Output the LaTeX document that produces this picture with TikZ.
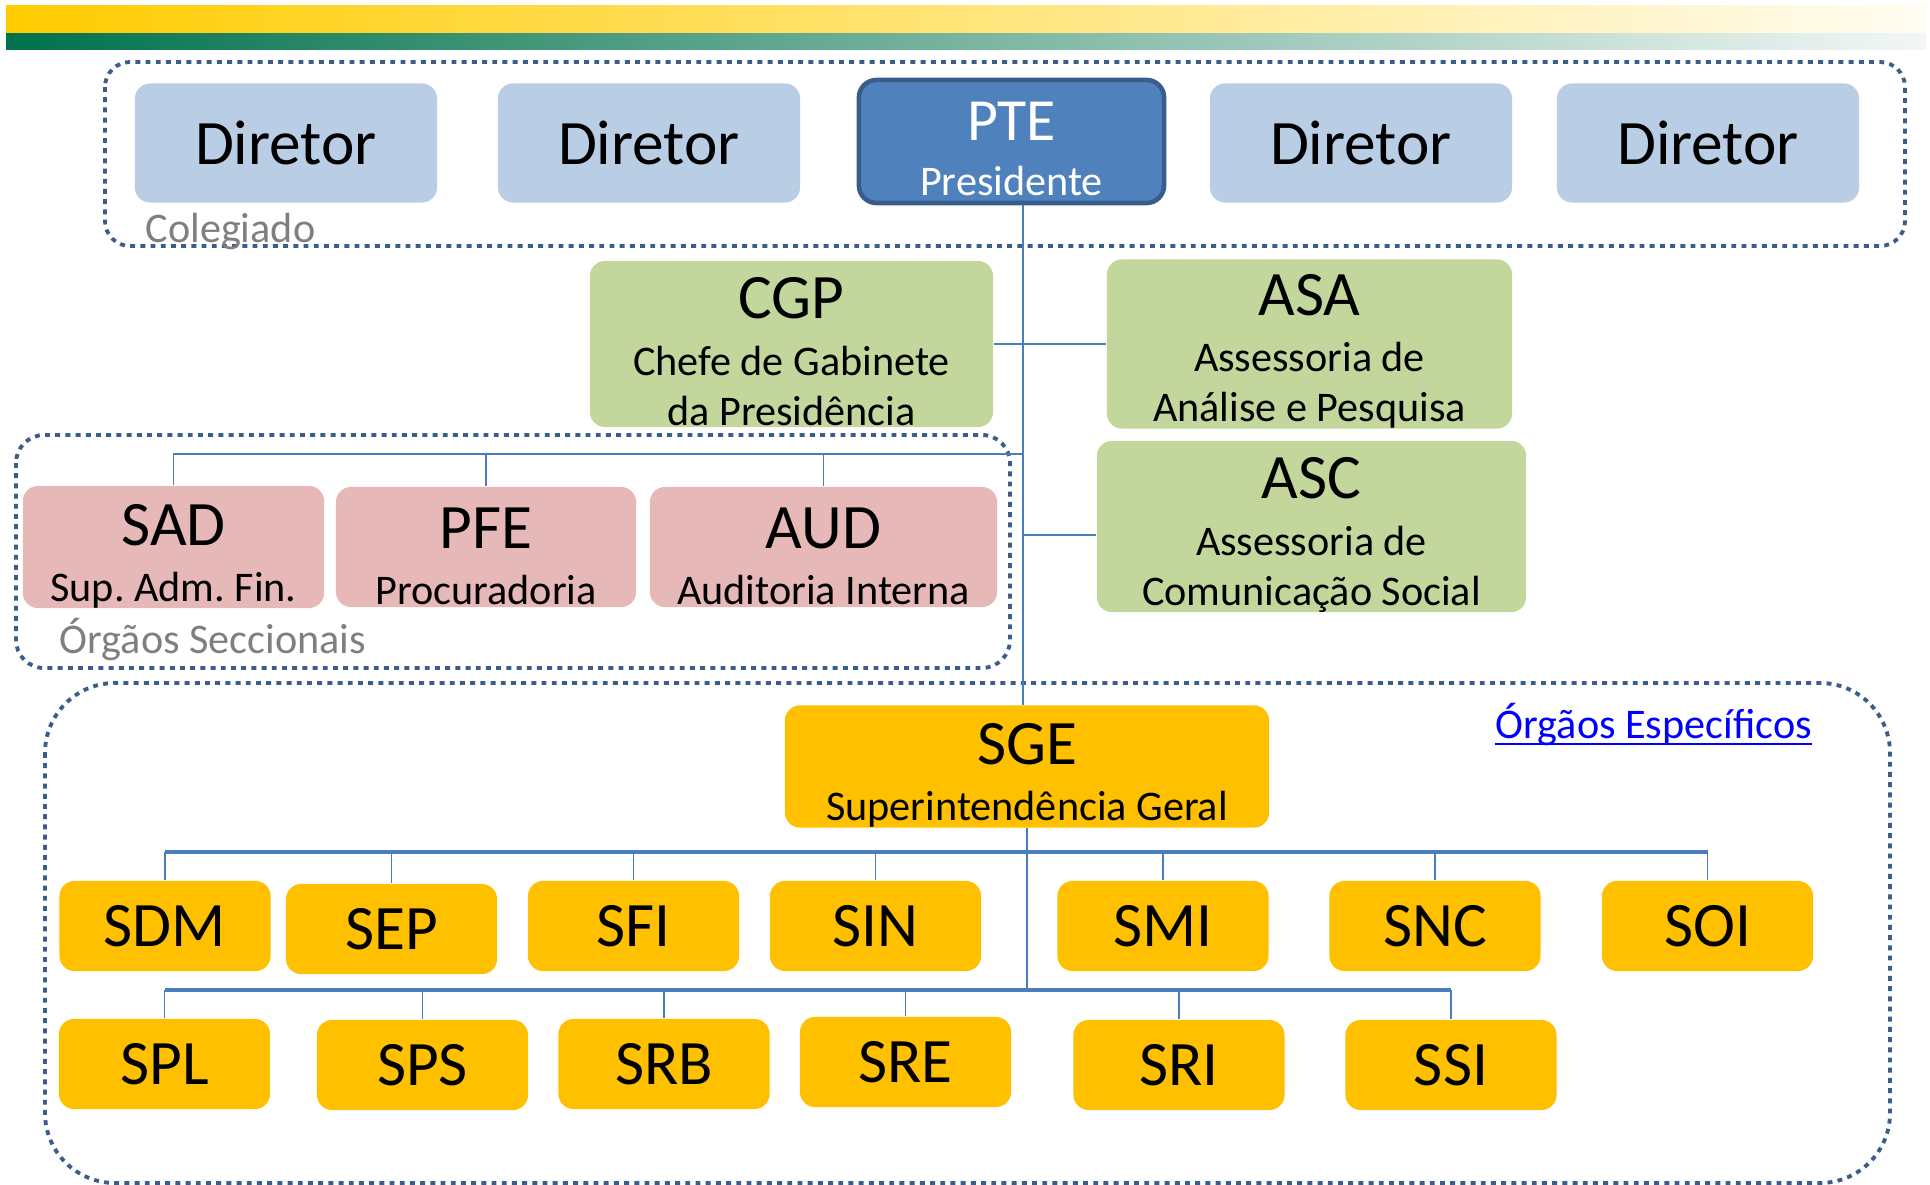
\documentclass[tikz,border=0pt]{standalone}
\usepackage{fontspec}
\setmainfont{Carlito}
\usepackage{tikz}
\usetikzlibrary{positioning}
\frenchspacing
\definecolor{azulclaro}{HTML}{B9CDE5}
\definecolor{azulpte}{HTML}{4F81BD}
\definecolor{bordapte}{HTML}{385D8A}
\definecolor{verde}{HTML}{C3D69B}
\definecolor{rosa}{HTML}{E6B9B8}
\definecolor{ouro}{HTML}{FFC000}
\definecolor{pontilhado}{HTML}{3A5D8B}
\definecolor{conector}{HTML}{4A7EBB}
\definecolor{cinza}{HTML}{7F7F7F}
\definecolor{amarelo}{HTML}{FFCC00}
\definecolor{amareloclaro}{HTML}{FFFDF2}
\definecolor{verdebanda}{HTML}{00724C}
\definecolor{verdeclaro}{HTML}{F2F7F5}
\tikzset{
    %Define style for boxes
    diretor/.style={
           rectangle,
           rounded corners=4.3pt,
           fill=azulclaro,
           minimum width=3.02cm,
           minimum height=1.19cm,
           inner sep=0pt,
           font=\fontsize{18}{20}\selectfont,
           text centered},
    presidente/.style={
           rectangle,
           rounded corners=5pt,
           fill=azulpte,
           draw=bordapte, line width=1.3pt,
           text=white,
           minimum width=3.0cm,
           minimum height=1.19cm,
           inner sep=0pt,
           font=\fontsize{12}{14.2}\selectfont,
           align=center},
    assessoria/.style={
           rectangle,
           rounded corners=4.3pt,
           fill=verde,
           minimum height=1.66cm,
           inner sep=0pt,
           font=\fontsize{12}{14.2}\selectfont,
           align=center},
    seccional/.style={
           rectangle,
           rounded corners=4.3pt,
           fill=rosa,
           minimum height=1.2cm,
           inner sep=0pt,
           font=\fontsize{12}{14.2}\selectfont,
           align=center},
    geral/.style={
           rectangle,
           rounded corners=4.3pt,
           fill=ouro,
           minimum width=4.84cm,
           minimum height=1.17cm,
           inner sep=0pt,
           font=\fontsize{12}{14.2}\selectfont,
           align=center},
    orgao/.style={
           rectangle,
           rounded corners=4.3pt,
           fill=ouro,
           minimum width=2.11cm,
           minimum height=0.9cm,
           inner sep=0pt,
           font=\fontsize{18}{20}\selectfont,
           text centered},
    rotulo/.style={
           text=cinza,
           inner sep=0pt,
           font=\fontsize{12}{14}\selectfont},
    % Define style for dotted groups
    grupo/.style={
           draw=pontilhado,
           line width=1.1pt,
           dash pattern=on 1.4pt off 1.5pt},
    % Define connector style
    linha/.style={
           draw=conector,
           line width=0.45pt},
    barra/.style={
           draw=conector,
           line width=0.9pt}
}
\newcommand{\titulo}[2][16pt]{{\fontsize{18}{20}\selectfont\rule{0pt}{#1}#2}\\[1.8pt]}

\begin{document}
\begin{tikzpicture}[x=0.01cm,y=-0.01cm]
\useasboundingbox (0,0) rectangle (1930,1185);
 %bands
\shade[left color=amarelo, right color=amareloclaro] (6,6) rectangle (1926,34);
\shade[left color=verdebanda, right color=verdeclaro] (6,34) rectangle (1926,50);
 %groups
\draw[grupo, rounded corners=0.25cm] (105,62) rectangle (1905,246);
\draw[grupo, rounded corners=0.28cm] (16,435) rectangle (1010,668);
\draw[grupo, rounded corners=0.7cm] (45,683) rectangle (1890,1183);
\node[rotulo, anchor=base west] (colegiado) at (145,242) {Colegiado};
\node[rotulo, anchor=base west] (seccionais) at (59,653) {Órgãos Seccionais};
\node[rotulo, text=blue, anchor=base west] (especificos) at (1495,738) {Órgãos Específicos};
\draw[blue, line width=0.6pt] ([yshift=-1.8pt]especificos.base west) -- ([yshift=-1.8pt]especificos.base east);
 %nodes
\node[diretor] (dir1) at (286,143) {Diretor};
\node[diretor] (dir2) at (649,143) {Diretor};
\node[presidente, minimum width=3.05cm, minimum height=1.23cm] (pte) at (1011.5,141.5)
    {{\fontsize{17}{19}\selectfont\rule{0pt}{15pt}PTE}\\[1.5pt]Presidente};
\node[diretor] (dir3) at (1361,143) {Diretor};
\node[diretor] (dir4) at (1708,143) {Diretor};
\node[assessoria, minimum width=4.03cm] (cgp) at (791.5,344)
    {\titulo{CGP}Chefe de Gabinete\\da Presidência};
\node[assessoria, minimum width=4.05cm] (asa) at (1309.5,344)
    {\titulo{ASA}Assessoria de\\Análise e Pesquisa};
\node[assessoria, minimum width=4.29cm, minimum height=1.65cm] (asc) at (1311.5,526.5)
    {\titulo[16.5pt]{ASC}Assessoria de\\Comunicação Social};
\node[seccional, minimum width=3.01cm] (sad) at (173.5,547) {\titulo[16.8pt]{SAD}Sup. Adm. Fin.};
\node[seccional, minimum width=3.0cm] (pfe) at (486,547) {\titulo[16.8pt]{PFE}Procuradoria};
\node[seccional, minimum width=3.47cm] (aud) at (823.5,547) {\titulo[16.8pt]{AUD}Auditoria Interna};
\node[geral] (sge) at (1027,766.5) {\titulo[16.8pt]{SGE}Superintendência Geral};
\node[orgao] (sdm) at (165,926) {SDM};
\node[orgao] (sep) at (391.5,929) {SEP};
\node[orgao] (sfi) at (633.5,926) {SFI};
\node[orgao] (sin) at (875.5,926) {SIN};
\node[orgao] (smi) at (1163,926) {SMI};
\node[orgao] (snc) at (1435,926) {SNC};
\node[orgao] (soi) at (1707.5,926) {SOI};
\node[orgao] (spl) at (164.5,1064) {SPL};
\node[orgao] (sps) at (422.5,1065) {SPS};
\node[orgao] (srb) at (664,1064) {SRB};
\node[orgao] (sre) at (905.5,1062) {SRE};
\node[orgao] (sri) at (1179,1065) {SRI};
\node[orgao] (ssi) at (1451,1065) {SSI};
 %connectors
\coordinate (secbus) at (1023,454);
\coordinate (barra1) at (1027,852);
\coordinate (barra2) at (1027,990);
\path[linha]
    (pte.south -| secbus) edge (sge.north -| secbus)
    (cgp.east) edge (asa.west)
    (secbus |- 0,535) edge (asc.west |- 0,535)
    (sge.south) edge (barra2);
\draw[linha] (secbus) -| (sad.north);
\foreach \n in {pfe,aud}
    \draw[linha] (secbus -| \n.north) -- (\n.north);
\draw[barra] (sdm.north |- barra1) -- (soi.north |- barra1);
\foreach \n in {sdm,sep,sfi,sin,smi,snc,soi}
    \draw[linha] (barra1 -| \n.north) -- (\n.north);
\draw[barra] (spl.north |- barra2) -- (ssi.north |- barra2);
\foreach \n in {spl,sps,srb,sre,sri,ssi}
    \draw[linha] (barra2 -| \n.north) -- (\n.north);
\end{tikzpicture}
\end{document}
